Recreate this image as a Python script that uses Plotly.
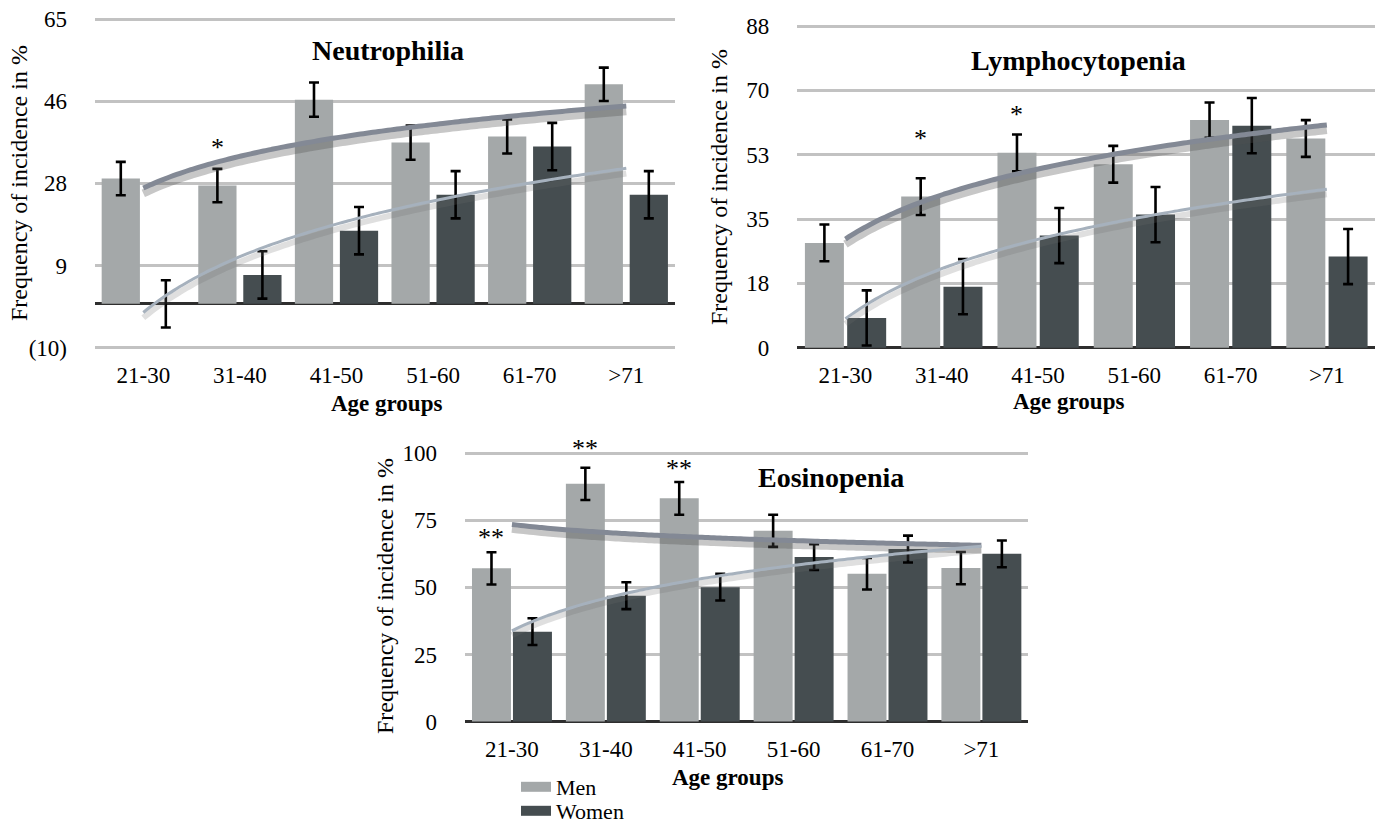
import numpy as np
import plotly.graph_objects as go

# ---------------- data ----------------
categories = ["21-30", "31-40", "41-50", "51-60", "61-70", ">71"]

neu_men = [28.6, 27.0, 46.6, 36.8, 38.2, 50.1]
neu_men_err = [3.8, 3.8, 3.9, 3.9, 3.9, 3.8]
neu_women = [0.0, 6.6, 16.7, 24.9, 35.9, 24.9]
neu_women_err = [5.4, 5.4, 5.4, 5.4, 5.4, 5.4]
neu_ticks = [-10, 8.75, 27.5, 46.25, 65]
neu_ticktext = ["(10)", "9", "28", "46", "65"]
neu_sig = [("31-40", "*", 36.1)]

lym_men = [28.5, 41.1, 53.0, 49.9, 61.9, 56.9]
lym_men_err = [5.0, 5.0, 5.0, 5.0, 4.8, 5.0]
lym_women = [8.1, 16.6, 30.5, 36.2, 60.4, 24.8]
lym_women_err = [7.5, 7.5, 7.5, 7.5, 7.5, 7.5]
lym_ticks = [0, 17.5, 35, 52.5, 70, 87.5]
lym_ticktext = ["0", "18", "35", "53", "70", "88"]
lym_sig = [("31-40", "*", 57.4), ("41-50", "*", 64.0)]

eos_men = [57.1, 88.6, 83.2, 71.1, 55.1, 57.2]
eos_men_err = [6.0, 6.0, 6.1, 6.0, 5.9, 6.0]
eos_women = [33.5, 46.9, 50.1, 61.3, 64.3, 62.5]
eos_women_err = [5.0, 5.0, 5.0, 4.8, 5.0, 5.0]
eos_ticks = [0, 25, 50, 75, 100]
eos_ticktext = ["0", "25", "50", "75", "100"]
eos_sig = [("21-30", "**", 69.5), ("31-40", "**", 102.4), ("41-50", "**", 94.9)]

series_names = ["Men", "Women"]
titles = ["Neutrophilia", "Lymphocytopenia", "Eosinopenia"]
x_title = "Age groups"
y_title = "Frequency of incidence in %"

# ---------------- styling ----------------
W, H = 1375, 825
FONT = "Liberation Serif"
MEN_COLOR = "#a4a8a9"
WOMEN_COLOR = "#454d50"
MEN_TREND = "#838995"
WOMEN_TREND = "#a6b1bd"
GRID = "#c2c2c2"
TICK_SIZE = 23


def px(x):
    return x / W


def py(y):
    return 1 - y / H


def y_fit(lo, hi, bottom_px, top_px, pad=2.0):
    """Range and domain so that lo/hi land on the given pixel rows (with a little pad)."""
    per_px = (hi - lo) / (bottom_px - top_px)
    rng = [lo - pad * per_px, hi + pad * per_px]
    dom = [py(bottom_px + pad), min(1.0, py(top_px - pad))]
    return rng, dom


fig = go.Figure()
xpos = np.arange(len(categories))


def log_trend(vals):
    # Excel-style logarithmic least-squares trendline of the series
    k = np.arange(1, len(vals) + 1)
    b, a = np.polyfit(np.log(k), np.asarray(vals, float), 1)
    kk = np.linspace(1, len(vals), 80)
    return kk - 1, a + b * np.log(kk)


charts = [
    dict(men=neu_men, men_err=neu_men_err, women=neu_women, women_err=neu_women_err,
         geo=(-0.431, 0.396, 0.035), ax="", lohi=(-10, 65), px_y=(347.7, 19),
         ticks=neu_ticks, ticktext=neu_ticktext, sig=neu_sig,
         xdom=[px(95), px(674.6)]),
    dict(men=lym_men, men_err=lym_men_err, women=lym_women, women_err=lym_women_err,
         geo=(-0.421, 0.405, 0.018), ax="2", lohi=(0, 87.5), px_y=(347.7, 26),
         ticks=lym_ticks, ticktext=lym_ticktext, sig=lym_sig,
         xdom=[px(797.3), 1.0]),
    dict(men=eos_men, men_err=eos_men_err, women=eos_women, women_err=eos_women_err,
         geo=(-0.4255, 0.415, 0.011), ax="3", lohi=(0, 100), px_y=(721.5, 453.3),
         ticks=eos_ticks, ticktext=eos_ticktext, sig=eos_sig,
         xdom=[px(465), px(1028.3)]),
]

annotations = []
layout_axes = {}

for c in charts:
    xa, ya = "x" + c["ax"], "y" + c["ax"]
    m_off, bw, w_off = c["geo"]
    rng, ydom = y_fit(c["lohi"][0], c["lohi"][1], *c["px_y"])
    span = c["lohi"][1] - c["lohi"][0]

    for vals, err, off, col, nm in [
        (c["men"], c["men_err"], m_off, MEN_COLOR, series_names[0]),
        (c["women"], c["women_err"], w_off, WOMEN_COLOR, series_names[1]),
    ]:
        fig.add_trace(go.Bar(
            x=xpos, y=vals, width=bw, offset=off, name=nm, showlegend=False,
            marker=dict(color=col, line=dict(width=0)),
            error_y=dict(type="data", array=err, visible=True, color="black",
                         thickness=2.6, width=5),
            xaxis=xa, yaxis=ya,
        ))

    # trendlines (with a soft shadow below)
    for vals, col, lw, sh in [(c["men"], MEN_TREND, 5, "rgba(80,80,80,0.32)"),
                              (c["women"], WOMEN_TREND, 3, "rgba(110,110,110,0.22)")]:
        tx, ty = log_trend(vals)
        fig.add_trace(go.Scatter(
            x=tx, y=ty - 0.016 * span, mode="lines", showlegend=False, hoverinfo="skip",
            line=dict(color=sh, width=lw + 3, shape="spline"),
            xaxis=xa, yaxis=ya))
        fig.add_trace(go.Scatter(
            x=tx, y=ty, mode="lines", showlegend=False, hoverinfo="skip",
            line=dict(color=col, width=lw, shape="spline"),
            xaxis=xa, yaxis=ya))

    # significance marks above men's bars (y mapped through the axis to paper,
    # so marks above the top of the range are still drawn)
    for cat, txt, yv in c["sig"]:
        y_paper = ydom[0] + (yv - rng[0]) / (rng[1] - rng[0]) * (ydom[1] - ydom[0])
        annotations.append(dict(
            x=categories.index(cat) + m_off + bw / 2, y=y_paper, xref=xa, yref="paper",
            xanchor="center", yanchor="middle",
            text=txt, showarrow=False, font=dict(family=FONT, size=26, color="black"),
            yshift=-2))

    key = c["ax"]
    layout_axes["xaxis" + key] = dict(
        domain=c["xdom"], range=[-0.5, 5.5], tickmode="array", tickvals=xpos,
        ticktext=categories, showgrid=False, zeroline=False, showline=False,
        ticks="", ticklabelstandoff=9,
        tickfont=dict(family=FONT, size=TICK_SIZE, color="black"),
        anchor="y" + key,
    )
    layout_axes["yaxis" + key] = dict(
        domain=ydom, range=rng, tickmode="array", tickvals=c["ticks"],
        ticktext=c["ticktext"], showgrid=True, gridcolor=GRID, gridwidth=2.5,
        zeroline=True, zerolinecolor="#2e2e2e", zerolinewidth=3, showline=False,
        ticks="", ticklabelstandoff=27,
        tickfont=dict(family=FONT, size=TICK_SIZE, color="black"),
        anchor="x" + key,
    )

# legend entries (swatches), one legend per entry for exact placement
for nm, col, leg in zip(series_names, [MEN_COLOR, WOMEN_COLOR], ["legend", "legend2"]):
    fig.add_trace(go.Scatter(x=[None], y=[None], mode="lines", name=nm,
                             line=dict(color=col, width=13),
                             xaxis="x3", yaxis="y3", showlegend=True, legend=leg))

leg_common = dict(xanchor="left", yanchor="middle",
                  font=dict(family=FONT, size=22, color="black"),
                  bgcolor="rgba(0,0,0,0)", itemwidth=30, borderwidth=0)

# chart titles
for t, (cx, cy) in zip(titles, [(388, 51), (1078, 60), (831, 478)]):
    annotations.append(dict(x=px(cx), y=py(cy), xref="paper", yref="paper", text=f"<b>{t}</b>",
                            xanchor="center", yanchor="middle",
                            showarrow=False, font=dict(family=FONT, size=28, color="black")))
# x axis titles
for (cx, cy) in [(386, 403), (1068, 401), (727, 777)]:
    annotations.append(dict(x=px(cx), y=py(cy), xref="paper", yref="paper",
                            xanchor="center", yanchor="middle",
                            text=f"<b>{x_title}</b>", showarrow=False,
                            font=dict(family=FONT, size=23, color="black")))
# y axis titles
for (cx, cy) in [(19, 183), (719, 187), (385, 596)]:
    annotations.append(dict(x=px(cx), y=py(cy), xref="paper", yref="paper", text=y_title,
                            xanchor="center", yanchor="middle",
                            textangle=-90, showarrow=False,
                            font=dict(family=FONT, size=24, color="black")))

fig.update_layout(
    width=W, height=H, margin=dict(l=0, r=0, t=0, b=0, autoexpand=False),
    paper_bgcolor="white", plot_bgcolor="white",
    barmode="overlay", annotations=annotations,
    legend=dict(x=px(516), y=py(787), **leg_common),
    legend2=dict(x=px(516), y=py(811), **leg_common),
    **layout_axes,
)

fig.write_html(
    "out.html",
    config={"displayModeBar": False},
    post_script="document.body.style.margin='0px';document.body.style.padding='0px';"
                "document.body.style.overflow='hidden';",
)
